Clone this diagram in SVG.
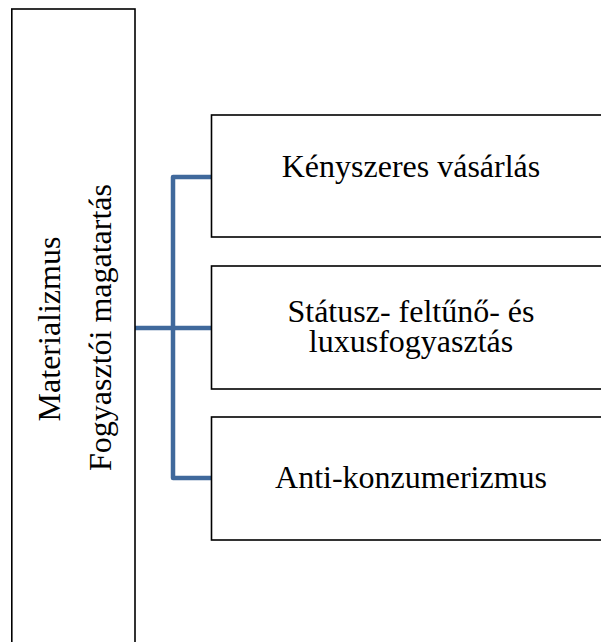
<svg xmlns="http://www.w3.org/2000/svg" width="601" height="642" viewBox="0 0 601 642">
<style>
.box{fill:#fff;stroke:#000;stroke-width:1.6}
.t{font-family:"Liberation Serif","Times New Roman",serif;font-size:32px;fill:#000;text-anchor:middle}
.c{fill:none;stroke:#40699C;stroke-width:4.5;stroke-linejoin:round;stroke-linecap:butt}
</style>
<rect width="601" height="642" fill="#fff"/>
<g id="connectors">
<path class="c" d="M135 328 H211"/>
<path class="c" d="M211 177 H173 V478 H211"/>
</g>
<g id="root">
<rect class="box" x="11.8" y="9" width="123.2" height="650"/>
<g transform="translate(60,329) rotate(-90)"><text class="t" x="0" y="0">Materializmus</text></g>
<g transform="translate(110.7,327.5) rotate(-90)"><text class="t" x="0" y="0">Fogyasztói magatartás</text></g>
</g>
<g id="n1">
<rect class="box" x="211.5" y="115" width="400" height="122"/>
<text class="t" x="411" y="177">Kényszeres vásárlás</text>
</g>
<g id="n2">
<rect class="box" x="211.5" y="266" width="400" height="123"/>
<text class="t" x="411" y="321.5">Státusz- feltűnő- és</text>
<text class="t" x="411" y="352">luxusfogyasztás</text>
</g>
<g id="n3">
<rect class="box" x="211.5" y="417" width="400" height="123"/>
<text class="t" x="411" y="488">Anti-konzumerizmus</text>
</g>
</svg>
